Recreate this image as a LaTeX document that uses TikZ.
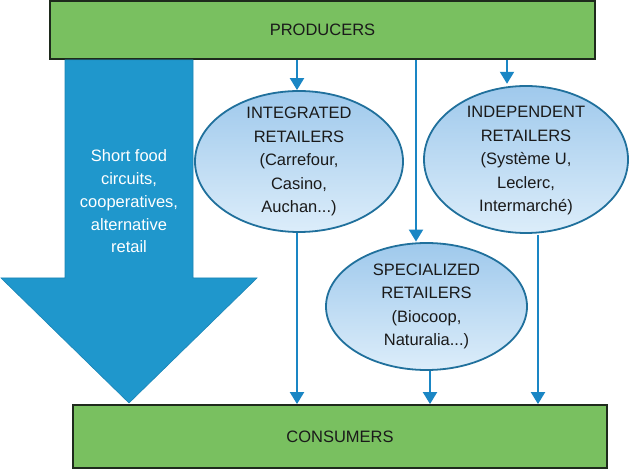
\documentclass[tikz,border=0pt]{standalone}
\usepackage{fontspec}
\setmainfont{Liberation Sans}
\usetikzlibrary{arrows.meta,shapes.geometric}
\definecolor{boxgreen}{HTML}{79C060}
\definecolor{boxedge}{HTML}{1E2A1C}
\definecolor{bigblue}{HTML}{1F97CC}
\definecolor{bigedge}{HTML}{1A84B5}
\definecolor{conblue}{HTML}{1A86C4}
\definecolor{elltop}{HTML}{9FC9EC}
\definecolor{ellbot}{HTML}{DCEDFA}
\definecolor{elledge}{HTML}{20709C}
\definecolor{txt}{HTML}{1A1A1A}
\tikzset{
  bar/.style={draw=boxedge, line width=1.8pt, fill=boxgreen, inner sep=0pt, text=txt,
    font=\fontsize{16.5}{20}\selectfont},
  ret/.style={ellipse, draw=elledge, line width=1.8pt, top color=elltop, bottom color=ellbot,
    inner sep=0pt},
  rettext/.style={align=center, text=txt, font=\fontsize{16.5}{23.5}\selectfont, inner sep=0pt},
  conn/.style={draw=conblue, line width=2pt, -{Triangle[width=14pt,length=12pt]}},
}
\begin{document}
\begin{tikzpicture}[x=1pt,y=-1pt]
\useasboundingbox (0,0) rectangle (632,470);
% producers and consumers
\node[bar, minimum width=545pt, minimum height=58pt] (prod) at (322.5,30) {PRODUCERS};
\node[bar, minimum width=534pt, minimum height=63pt] (cons) at (340,436.5) {CONSUMERS};
% big arrow
\coordinate (bl) at (65,0);
\coordinate (br) at (193,0);
\coordinate (tip) at (129,403);
\fill[bigblue, draw=bigedge, line width=0.6pt]
  (prod.south -| bl) -- (prod.south -| br) -- (193,278) -- (257,278) -- (tip)
  -- (1,278) -- (65,278) -- cycle;
\node[rettext, text=white, font=\fontsize{16.5}{22.8}\selectfont] (alt) at (129,201.5)
  {Short food\\circuits,\\cooperatives,\\alternative\\retail};
% retailers
\node[ret, minimum width=208pt, minimum height=141pt] (int) at (299,161.5) {};
\node[rettext] (intt) at (int.center) {INTEGRATED\\RETAILERS\\(Carrefour,\\Casino,\\Auchan...)};
\node[ret, minimum width=204pt, minimum height=147pt] (ind) at (526,159.5) {};
\node[rettext] (indt) at ([yshift=-1.5pt]ind.center) {INDEPENDENT\\RETAILERS\\(Système U,\\Leclerc,\\Intermarché)};
\node[ret, minimum width=201pt, minimum height=127pt] (spe) at (426.5,306.5) {};
\node[rettext] (spet) at (spe.center) {SPECIALIZED\\RETAILERS\\(Biocoop,\\Naturalia...)};
% connectors
\coordinate (xi) at (297,0);
\coordinate (xm) at (416,0);
\coordinate (xd) at (507,0);
\coordinate (xs) at (430,0);
\coordinate (xo) at (538,0);
\draw[conn] (prod.south -| xi) -- (int.north -| xi);
\draw[conn] (prod.south -| xm) -- ([yshift=0.5pt]spe.north -| xm);
\draw[conn] (prod.south -| xd) -- ([yshift=1.3pt]ind.north -| xd);
\draw[conn] (int.south -| xi) -- (cons.north -| xi);
\draw[conn] (spe.south -| xs) -- (cons.north -| xs);
\draw[conn] ([yshift=-1pt]ind.south -| xo) -- (cons.north -| xo);
\end{tikzpicture}
\end{document}
